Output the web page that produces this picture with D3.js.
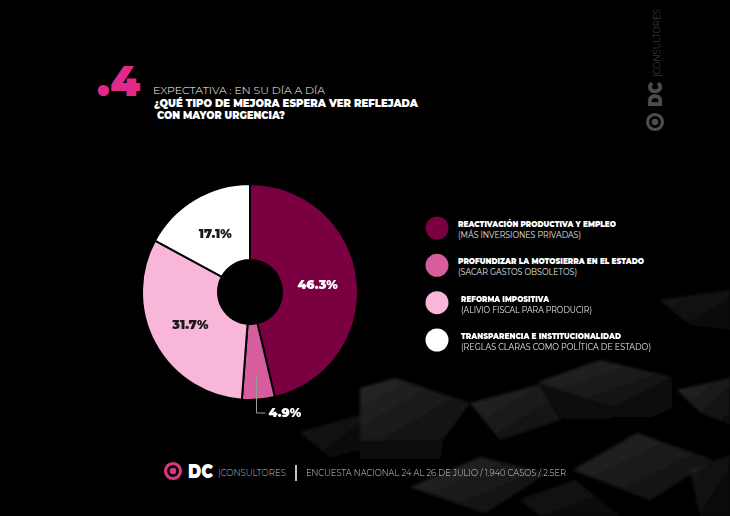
<!DOCTYPE html>
<html>
<head lang="es">
    <meta charset="utf-8">
    <title>DC Consultores | Expectativa</title>
    <style type="text/css">
        html, body {
            margin: 0;
            padding: 0;
            background: #000;
        }
        svg {
            display: block;
        }
    </style>
</head>
<body>

<div id="chart"></div>

<script src="https://cdn.jsdelivr.net/npm/d3@7"></script>
<script type="text/javascript">
    // datos del gráfico
    var categories = [
        "REACTIVACIÓN PRODUCTIVA Y EMPLEO",
        "PROFUNDIZAR LA MOTOSIERRA EN EL ESTADO",
        "REFORMA IMPOSITIVA",
        "TRANSPARENCIA E INSTITUCIONALIDAD"
    ];
    var subtitles = [
        "(MÁS INVERSIONES  PRIVADAS)",
        "(SACAR GASTOS OBSOLETOS)",
        "(ALIVIO FISCAL PARA PRODUCIR)",
        "(REGLAS CLARAS COMO POLÍTICA DE  ESTADO)"
    ];
    var values = [46.3, 4.9, 31.7, 17.1];
    var colors = ["#7b0042", "#d65e9e", "#f8b6d9", "#ffffff"];
    var labelColors = ["#ffffff", "#ffffff", "#1a1a1a", "#1a1a1a"];

    var W = 730, H = 516;
    var fontB = "Montserrat, Lato, 'Open Sans', sans-serif";

    var svg = d3.select("#chart")
        .append("svg")
        .attr("width", W)
        .attr("height", H);

    var defs = svg.append("defs");
    var g1 = defs.append("linearGradient").attr("id", "face")
        .attr("x1", "0%").attr("y1", "0%").attr("x2", "100%").attr("y2", "100%");
    g1.append("stop").attr("offset", "0%").attr("stop-color", "#303030");
    g1.append("stop").attr("offset", "100%").attr("stop-color", "#101010");
    var g2 = defs.append("linearGradient").attr("id", "side")
        .attr("x1", "0%").attr("y1", "0%").attr("x2", "0%").attr("y2", "100%");
    g2.append("stop").attr("offset", "0%").attr("stop-color", "#0c0c0c");
    g2.append("stop").attr("offset", "100%").attr("stop-color", "#030303");
    defs.append("filter").attr("id", "soft")
        .append("feGaussianBlur").attr("stdDeviation", 1.6);

    //fondo
    svg.append("rect").attr("width", W).attr("height", H).attr("fill", "#000");

    // cubos decorativos del fondo
    var sides = [
        [[538, 382], [613, 407], [613, 440], [538, 412]],
        [[613, 407], [672, 377], [672, 408], [613, 440]],
        [[360, 440], [443, 440], [440, 470], [360, 468]]
    ];
    var faces = [
        [[538, 382], [600, 360], [672, 377], [613, 407]],
        [[360, 388], [395, 378], [470, 403], [443, 440], [360, 440]],
        [[573, 470], [637, 433], [713, 460], [650, 500]],
        [[410, 487], [480, 457], [547, 473], [485, 513]],
        [[677, 390], [730, 378], [730, 425], [700, 412]],
        [[470, 403], [538, 385], [560, 420], [500, 440]],
        [[300, 432], [360, 415], [360, 450], [330, 458]],
        [[660, 300], [730, 290], [730, 330], [690, 325]],
        [[520, 500], [575, 480], [620, 516], [540, 516]],
        [[690, 470], [730, 455], [730, 516], [700, 516]]
    ];
    var line = d3.line();
    var bg = svg.append("g").attr("filter", "url(#soft)");
    bg.selectAll("path.side")
        .data(sides).enter().append("path")
        .attr("class", "side")
        .attr("d", function (d) { return line(d) + "Z"; })
        .attr("fill", "url(#side)");
    bg.selectAll("path.face")
        .data(faces).enter().append("path")
        .attr("class", "face")
        .attr("d", function (d) { return line(d) + "Z"; })
        .attr("fill", "url(#face)")
        .attr("opacity", function (d, i) { return i > 5 ? 0.5 : 0.8; });

    // encabezado
    svg.append("text")
        .attr("x", 97).attr("y", 96)
        .attr("font-family", fontB)
        .attr("font-weight", 900)
        .attr("font-size", 42)
        .attr("textLength", 43)
        .attr("lengthAdjust", "spacingAndGlyphs")
        .attr("fill", "#e1298b")
        .text(".4");

    svg.append("text")
        .attr("x", 153).attr("y", 94)
        .attr("font-family", fontB)
        .attr("font-weight", 300)
        .attr("font-size", 9.5)
        .attr("textLength", 172)
        .attr("lengthAdjust", "spacingAndGlyphs")
        .attr("fill", "#ffffff")
        .text("EXPECTATIVA : EN SU DÍA A DÍA");

    svg.append("text")
        .attr("x", 154).attr("y", 107)
        .attr("font-family", fontB)
        .attr("font-weight", 900)
        .attr("font-size", 10)
        .attr("textLength", 264)
        .attr("lengthAdjust", "spacingAndGlyphs")
        .attr("fill", "#ffffff")
        .text("¿QUÉ TIPO DE MEJORA ESPERA VER REFLEJADA");

    svg.append("text")
        .attr("x", 157).attr("y", 119)
        .attr("font-family", fontB)
        .attr("font-weight", 900)
        .attr("font-size", 10)
        .attr("textLength", 128)
        .attr("lengthAdjust", "spacingAndGlyphs")
        .attr("fill", "#ffffff")
        .text("CON MAYOR URGENCIA?");

    // torta
    var cx = 250, cy = 292, rOut = 108, rIn = 32;
    var pie = d3.pie().sort(null).value(function (d) { return d; });
    var arcs = pie(values);
    var arc = d3.arc().innerRadius(rIn).outerRadius(rOut);
    var labelArc = d3.arc().innerRadius(68).outerRadius(68);

    var gp = svg.append("g").attr("transform", "translate(" + cx + "," + cy + ")");
    gp.selectAll("path")
        .data(arcs)
        .enter()
        .append("path")
        .attr("d", arc)
        .attr("fill", function (d, i) { return colors[i]; })
        .attr("stroke", "#000")
        .attr("stroke-width", 2);

    gp.selectAll("text.lbl")
        .data(arcs.filter(function (d) { return d.value > 10; }))
        .enter()
        .append("text")
        .attr("class", "lbl")
        .attr("transform", function (d) {
            var c = labelArc.centroid(d);
            return "translate(" + c[0] + "," + (c[1] + 4.5) + ")";
        })
        .attr("text-anchor", "middle")
        .attr("font-family", fontB)
        .attr("font-weight", 900)
        .attr("font-size", 12.5)
        .attr("fill", function (d) { return labelColors[d.index]; })
        .text(function (d) { return d3.format(".1f")(d.value) + "%"; });

    // etiqueta externa para el segmento chico
    arcs.filter(function (d) { return d.value <= 10; }).forEach(function (d) {
        var a = (d.startAngle + d.endAngle) / 2;
        var x0 = Math.sin(a) * 83, y0 = -Math.cos(a) * 83;
        gp.append("path")
            .attr("d", "M" + x0 + "," + y0 + "V" + (rOut + 13) + "H" + (x0 + 9))
            .attr("fill", "none")
            .attr("stroke", "#9a9a9a")
            .attr("stroke-width", 1);
        gp.append("text")
            .attr("x", x0 + 12).attr("y", rOut + 17)
            .attr("font-family", fontB)
            .attr("font-weight", 900)
            .attr("font-size", 12.5)
            .attr("fill", "#ffffff")
            .text(d3.format(".1f")(d.value) + "%");
    });

    // leyenda
    var legY = d3.scalePoint().domain(d3.range(categories.length)).range([228, 340]);
    var leg = svg.append("g").selectAll("g")
        .data(categories)
        .enter()
        .append("g")
        .attr("transform", function (d, i) { return "translate(0," + legY(i) + ")"; });

    leg.append("circle")
        .attr("cx", 437).attr("cy", 0).attr("r", 11.5)
        .attr("fill", function (d, i) { return colors[i]; });

    var titleW = [158, 186, 88, 160];
    var subW = [123, 119, 131, 190];
    leg.append("text")
        .attr("x", function (d, i) { return i < 2 ? 458 : 461; })
        .attr("y", -1)
        .attr("font-family", fontB)
        .attr("font-weight", 900)
        .attr("font-size", 8.6)
        .attr("textLength", function (d, i) { return titleW[i]; })
        .attr("lengthAdjust", "spacingAndGlyphs")
        .attr("fill", "#ffffff")
        .text(function (d) { return d; });

    leg.append("text")
        .attr("x", function (d, i) { return i < 2 ? 458 : 461; })
        .attr("y", 10)
        .attr("font-family", fontB)
        .attr("font-weight", 400)
        .attr("font-size", 8.8)
        .attr("textLength", function (d, i) { return subW[i]; })
        .attr("lengthAdjust", "spacingAndGlyphs")
        .attr("fill", "#e6e6e6")
        .text(function (d, i) { return subtitles[i]; });

    // logo (pie de página)
    function logo(g, ringColor, textColor, subColor) {
        g.append("circle").attr("cx", 0).attr("cy", 0).attr("r", 7.5)
            .attr("fill", "none").attr("stroke", ringColor).attr("stroke-width", 3.2);
        g.append("circle").attr("cx", 0).attr("cy", 0).attr("r", 3.3)
            .attr("fill", ringColor);
        g.append("text")
            .attr("x", 15).attr("y", 7)
            .attr("font-family", fontB)
            .attr("font-weight", 900)
            .attr("font-size", 19)
            .attr("textLength", 25)
            .attr("lengthAdjust", "spacingAndGlyphs")
            .attr("fill", textColor)
            .text("DC");
        g.append("text")
            .attr("x", 45).attr("y", 5)
            .attr("font-family", fontB)
            .attr("font-weight", 300)
            .attr("font-size", 9)
            .attr("textLength", 68)
            .attr("lengthAdjust", "spacingAndGlyphs")
            .attr("fill", subColor)
            .text("|CONSULTORES");
    }

    var foot = svg.append("g").attr("transform", "translate(173,471)");
    logo(foot, "#d8387f", "#ffffff", "#bdbdbd");

    svg.append("line")
        .attr("x1", 296).attr("x2", 296).attr("y1", 465).attr("y2", 481)
        .attr("stroke", "#ffffff").attr("stroke-width", 1.5);

    svg.append("text")
        .attr("x", 306).attr("y", 476)
        .attr("font-family", fontB)
        .attr("font-weight", 300)
        .attr("font-size", 9)
        .attr("textLength", 260)
        .attr("lengthAdjust", "spacingAndGlyphs")
        .attr("fill", "#d0d0d0")
        .text("ENCUESTA NACIONAL  24 AL 26 DE JULIO / 1.940 CASOS / 2.5ER");

    // logo vertical (derecha)
    var side = svg.append("g").attr("transform", "translate(655,122) rotate(-90)");
    logo(side, "#4c4c4c", "#4c4c4c", "#4c4c4c");

</script>
</body>
</html>
